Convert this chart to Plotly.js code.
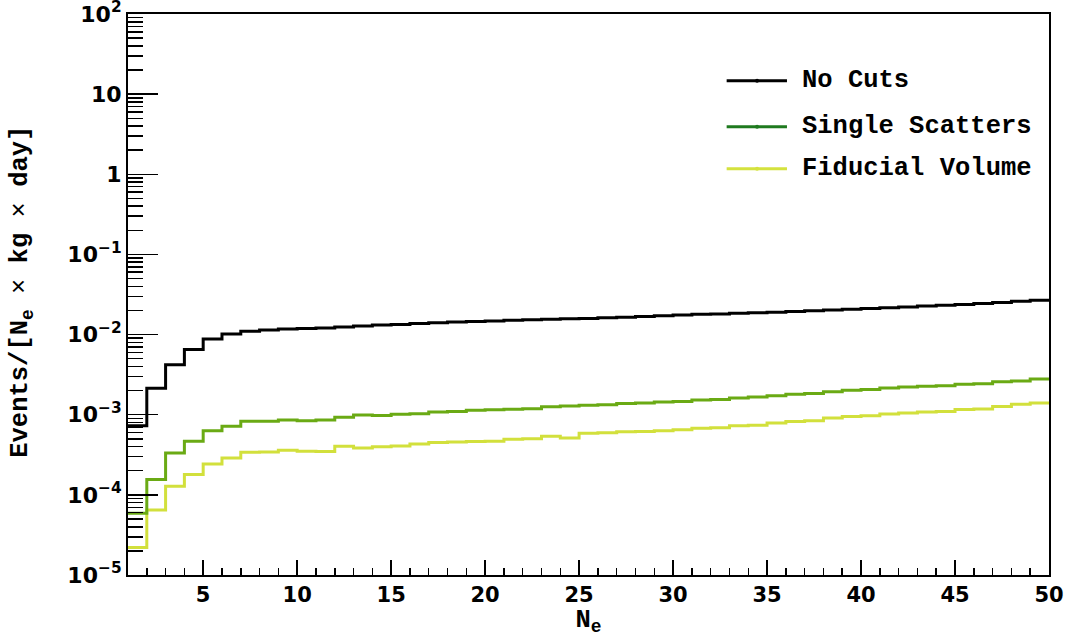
<!DOCTYPE html>
<html>
<head>
<meta charset="utf-8">
<script src="https://cdn.plot.ly/plotly-3.0.1.min.js"></script>
<style>
  html, body { margin: 0; padding: 0; background: #ffffff; }
  #chart { width: 1068px; height: 637px; }
</style>
</head>
<body>
<div id="chart"></div>
<script>
// Bin edges of the N_e histogram (unit-width bins from 1 to 50)
const binEdges = [1, 2, 3, 4, 5, 6, 7, 8, 9, 10,
  11, 12, 13, 14, 15, 16, 17, 18, 19, 20,
  21, 22, 23, 24, 25, 26, 27, 28, 29, 30,
  31, 32, 33, 34, 35, 36, 37, 38, 39, 40,
  41, 42, 43, 44, 45, 46, 47, 48, 49, 50];

// Event rate per bin, Events/[N_e x kg x day]
const noCuts = [7.3e-4, 2.14e-3, 4.2e-3, 6.5e-3, 8.8e-3, 1.02e-2, 1.10e-2, 1.14e-2, 1.17e-2, 1.19e-2,
  1.21e-2, 1.24e-2, 1.28e-2, 1.32e-2, 1.34e-2, 1.37e-2, 1.40e-2, 1.43e-2, 1.46e-2, 1.48e-2,
  1.51e-2, 1.53e-2, 1.55e-2, 1.57e-2, 1.59e-2, 1.62e-2, 1.65e-2, 1.68e-2, 1.72e-2, 1.76e-2,
  1.79e-2, 1.81e-2, 1.84e-2, 1.87e-2, 1.90e-2, 1.94e-2, 1.98e-2, 2.02e-2, 2.07e-2, 2.12e-2,
  2.16e-2, 2.21e-2, 2.27e-2, 2.33e-2, 2.38e-2, 2.45e-2, 2.52e-2, 2.60e-2, 2.68e-2];

const singleScatters = [5.9e-5, 1.56e-4, 3.33e-4, 4.66e-4, 6.33e-4, 7.18e-4, 8.28e-4, 8.3e-4, 8.6e-4, 8.4e-4,
  8.6e-4, 9.3e-4, 9.9e-4, 9.75e-4, 1.01e-3, 1.03e-3, 1.08e-3, 1.10e-3, 1.14e-3, 1.15e-3,
  1.17e-3, 1.19e-3, 1.26e-3, 1.28e-3, 1.31e-3, 1.33e-3, 1.38e-3, 1.40e-3, 1.44e-3, 1.46e-3,
  1.53e-3, 1.55e-3, 1.62e-3, 1.66e-3, 1.73e-3, 1.80e-3, 1.84e-3, 1.94e-3, 2.02e-3, 2.06e-3,
  2.16e-3, 2.22e-3, 2.26e-3, 2.30e-3, 2.40e-3, 2.44e-3, 2.58e-3, 2.63e-3, 2.80e-3];

const fiducialVolume = [2.21e-5, 6.47e-5, 1.28e-4, 1.79e-4, 2.43e-4, 2.88e-4, 3.40e-4, 3.43e-4, 3.60e-4, 3.50e-4,
  3.48e-4, 4.04e-4, 3.85e-4, 3.98e-4, 4.08e-4, 4.32e-4, 4.50e-4, 4.55e-4, 4.64e-4, 4.68e-4,
  4.95e-4, 5.02e-4, 5.38e-4, 5.13e-4, 5.88e-4, 5.96e-4, 6.12e-4, 6.18e-4, 6.30e-4, 6.50e-4,
  6.80e-4, 6.90e-4, 7.30e-4, 7.40e-4, 7.90e-4, 8.20e-4, 8.40e-4, 9.10e-4, 9.50e-4, 9.70e-4,
  1.02e-3, 1.05e-3, 1.08e-3, 1.10e-3, 1.16e-3, 1.18e-3, 1.27e-3, 1.35e-3, 1.40e-3];

const seriesNames = ['No Cuts', 'Single Scatters', 'Fiducial Volume'];
const lineColors = ['#000000', '#6aaa14', '#d2e03c'];
const legendColors = ['#000000', '#1f7a1f', '#d4e23e'];

const yTickVals = [1e-5, 1e-4, 1e-3, 1e-2, 1e-1, 1, 10, 100];
const yTickText = ['10<sup>\u22125</sup>', '10<sup>\u22124</sup>', '10<sup>\u22123</sup>', '10<sup>\u22122</sup>',
  '10<sup>\u22121</sup>', '1', '10', '10<sup>2</sup>'];
const xTickVals = [5, 10, 15, 20, 25, 30, 35, 40, 45, 50];

// Step outline: repeat the last bin content at the upper edge
function stepTrace(values, color) {
  return {
    x: binEdges,
    y: values.concat([values[values.length - 1]]),
    type: 'scatter',
    mode: 'lines',
    line: { shape: 'hv', color: color, width: 3 },
    hoverinfo: 'skip',
    showlegend: false
  };
}

const allSeries = [noCuts, singleScatters, fiducialVolume];
// draw the lowest curve first so black stays on top
const traces = [2, 1, 0].map(i => stepTrace(allSeries[i], lineColors[i]));

const monoFont = { family: 'Liberation Mono, Courier New, monospace', size: 25.5, color: '#000000' };
const yTickFont = { family: 'DejaVu Sans, sans-serif', size: 22, color: '#000000', weight: 'bold' };
const xTickFont = { family: 'DejaVu Sans, sans-serif', size: 21, color: '#000000', weight: 'bold' };

// Hand-placed legend (line sample with a centre dot, then the label)
const legendY = [0.881, 0.799, 0.724];
const shapes = [];
const annotations = [];
seriesNames.forEach((name, i) => {
  shapes.push({
    type: 'line', xref: 'paper', yref: 'paper',
    x0: 0.650, x1: 0.7155, y0: legendY[i], y1: legendY[i],
    line: { color: legendColors[i], width: 3 }
  });
  shapes.push({
    type: 'circle', xref: 'paper', yref: 'paper',
    xsizemode: 'pixel', ysizemode: 'pixel',
    xanchor: 0.683, yanchor: legendY[i],
    x0: -2, x1: 2, y0: -2, y1: 2,
    fillcolor: legendColors[i], line: { width: 0 }
  });
  annotations.push({
    xref: 'paper', yref: 'paper', x: 0.7297, y: legendY[i],
    xanchor: 'left', yanchor: 'middle', showarrow: false,
    text: '<b>' + name + '</b>',
    font: monoFont
  });
});

// Rotated y-axis title
annotations.push({
  xref: 'paper', yref: 'paper', x: -0.115, y: 0.505,
  xanchor: 'center', yanchor: 'middle', showarrow: false,
  textangle: -90,
  text: '<b>Events/[N<sub>e</sub></b> \u00d7 <b>kg</b> \u00d7 <b>day]</b>',
  font: monoFont
});

const layout = {
  width: 1068,
  height: 637,
  margin: { l: 128, r: 19, t: 14, b: 62 },
  paper_bgcolor: '#ffffff',
  plot_bgcolor: '#ffffff',
  showlegend: false,
  xaxis: {
    range: [1, 50],
    showgrid: false,
    zeroline: false,
    showline: true,
    mirror: true,
    linecolor: '#000000',
    linewidth: 2,
    ticks: 'inside',
    ticklen: 15,
    tickwidth: 1.5,
    tickcolor: '#000000',
    tickvals: xTickVals,
    ticktext: xTickVals.map(String),
    tickfont: xTickFont,
    ticklabeloverflow: 'allow',
    minor: { ticks: 'inside', ticklen: 7, tickwidth: 1.5, tickcolor: '#000000', dtick: 1, showgrid: false },
    title: { text: '<b>N<sub>e</sub></b>', font: monoFont, standoff: 4 }
  },
  yaxis: {
    type: 'log',
    range: [-5, 2],
    showgrid: false,
    zeroline: false,
    showline: true,
    mirror: true,
    linecolor: '#000000',
    linewidth: 2,
    ticks: 'inside',
    ticklen: 30,
    tickwidth: 1.5,
    tickcolor: '#000000',
    tickvals: yTickVals,
    ticktext: yTickText,
    tickfont: yTickFont,
    ticklabeloverflow: 'allow',
    minor: { ticks: 'inside', ticklen: 15, tickwidth: 1.5, tickcolor: '#000000', dtick: 'D1', showgrid: false }
  },
  shapes: shapes,
  annotations: annotations
};

Plotly.newPlot('chart', traces, layout, { staticPlot: true, displayModeBar: false });
</script>
</body>
</html>
